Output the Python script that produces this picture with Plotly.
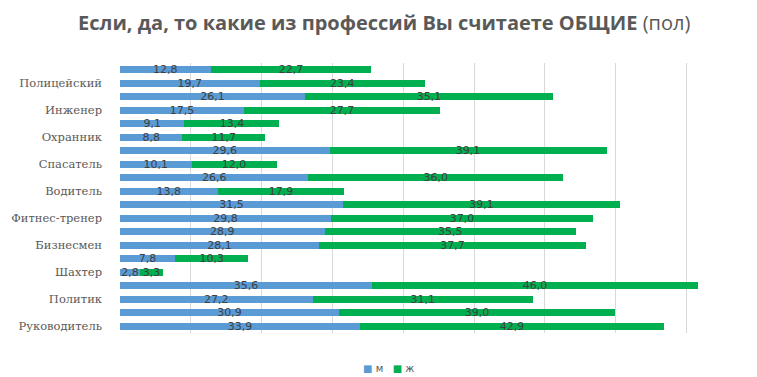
import plotly.graph_objects as go

# Top-to-bottom order (as displayed)
categories = ["", "Полицейский", "", "Инженер", "", "Охранник", "", "Спасатель", "",
              "Водитель", "", "Фитнес-тренер", "", "Бизнесмен", "", "Шахтер", "",
              "Политик", "", "Руководитель"]
male = [12.8, 19.7, 26.1, 17.5, 9.1, 8.8, 29.6, 10.1, 26.6, 13.8,
        31.5, 29.8, 28.9, 28.1, 7.8, 2.8, 35.6, 27.2, 30.9, 33.9]
female = [22.7, 23.4, 35.1, 27.7, 13.4, 11.7, 39.1, 12.0, 36.0, 17.9,
          39.1, 37.0, 35.5, 37.7, 10.3, 3.3, 46.0, 31.1, 39.0, 42.9]
series_names = ["м", "ж"]
colors = ["#5B9BD5", "#00B050"]

positions = list(range(len(categories)))

fig = go.Figure()
for name, vals, color in zip(series_names, [male, female], colors):
    fig.add_trace(go.Bar(
        y=positions, x=vals, name=name, orientation="h",
        marker=dict(color=color, line=dict(width=0)),
        texttemplate="%{x:.1f}", textposition="inside",
        insidetextanchor="middle", textangle=0, constraintext="none",
        textfont=dict(family="DejaVu Sans", size=11, color="#404040"),
        cliponaxis=False, showlegend=False,
    ))

legend_text = "   ".join(
    f"<span style='color:{c}'>■</span> {n}" for n, c in zip(series_names, colors))

fig.update_layout(
    width=757, height=377,
    barmode="stack", bargap=0.45,
    separators=", ",
    paper_bgcolor="white", plot_bgcolor="white",
    margin=dict(l=112, r=8, t=55, b=52, autoexpand=False),
    title=dict(
        text="<b>Если, да, то какие из профессий Вы считаете ОБЩИЕ</b> (пол)",
        x=0.497, xanchor="center", y=0.96, yanchor="middle",
        font=dict(family="Open Sans", size=20, color="#595959"),
    ),
    annotations=[dict(text=legend_text, xref="paper", yref="paper",
                      x=0.422, y=-0.13, xanchor="center", yanchor="middle",
                      showarrow=False,
                      font=dict(family="DejaVu Sans", size=10, color="#595959"))],
    xaxis=dict(range=[0, 89.95], dtick=10, showgrid=True, gridcolor="#D9D9D9",
               gridwidth=1, showticklabels=False, zeroline=False, showline=False),
    yaxis=dict(tickmode="array", tickvals=positions, ticktext=categories,
               autorange="reversed", showgrid=False, zeroline=False, automargin=False,
               tickfont=dict(family="DejaVu Serif", size=11.5, color="#595959"),
               ticks="", ticklabelstandoff=17),
)

fig.write_html("out.html")
